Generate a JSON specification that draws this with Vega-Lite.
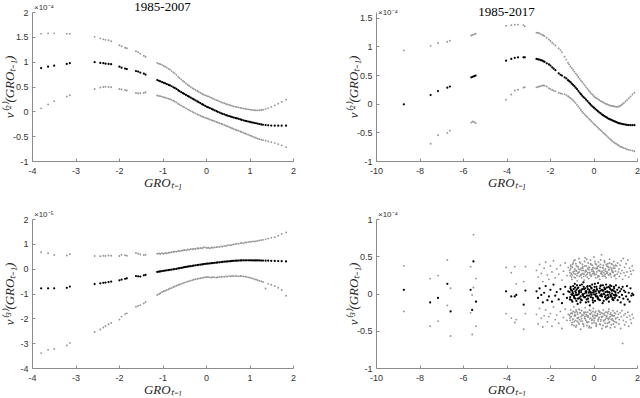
{
"$schema":"https://vega.github.io/schema/vega-lite/v6.json",
"padding":{"left":3,"top":0,"right":0,"bottom":0},
"config":{
 "locale":{"number":{"decimal":".","thousands":",","grouping":[3],"currency":["$",""],"minus":"-"}},
 "view":{"stroke":null},
 "font":"Liberation Sans",
 "title":{"font":"Liberation Serif","fontSize":13,"fontWeight":"normal","color":"#000000","offset":-10},
 "axis":{"grid":false,"domainColor":"#8c8c8c","tickColor":"#8c8c8c","tickSize":-3,"labelFont":"Liberation Sans","labelFontSize":9,"labelColor":"#333333","labelFlush":false,"labelOverlap":false,"titleFont":"Liberation Serif","titleFontSize":13,"titleFontWeight":"normal","titleFontStyle":"italic","titleColor":"#262626"}
},
"datasets":{
"L":[
{"x":-3.79,"hi2":1.56,"mid2":0.87,"lo2":0.06,"hi3":0.66,"mid3":-0.79,"lo3":-3.4},
{"x":-3.63,"hi2":1.57,"mid2":0.9,"lo2":0.14,"hi3":0.62,"mid3":-0.79,"lo3":-3.27},
{"x":-3.49,"hi2":1.57,"mid2":0.92,"lo2":0.205,"hi3":0.55,"mid3":-0.79,"lo3":-3.23},
{"x":-3.2,"hi2":1.56,"mid2":0.955,"lo2":0.3,"hi3":0.53,"mid3":-0.77,"lo3":-3.09},
{"x":-3.13,"hi2":1.56,"mid2":0.97,"lo2":0.325,"hi3":0.58,"mid3":-0.72,"lo3":-2.99},
{"x":-2.56,"hi2":1.5,"mid2":0.99,"lo2":0.45,"hi3":0.51,"mid3":-0.62,"lo3":-2.55},
{"x":-2.43,"hi2":1.47,"mid2":0.975,"lo2":0.48,"hi3":0.5,"mid3":-0.59,"lo3":-2.45},
{"x":-2.36,"hi2":1.45,"mid2":0.97,"lo2":0.49,"hi3":0.52,"mid3":-0.57,"lo3":-2.37},
{"x":-2.31,"hi2":1.44,"mid2":0.96,"lo2":0.495,"hi3":0.51,"mid3":-0.56,"lo3":-2.31},
{"x":-2.24,"hi2":1.43,"mid2":0.955,"lo2":0.49,"hi3":0.53,"mid3":-0.54,"lo3":-2.24},
{"x":-2.18,"hi2":1.41,"mid2":0.95,"lo2":0.485,"hi3":0.52,"mid3":-0.52,"lo3":-2.19},
{"x":-1.99,"hi2":1.33,"mid2":0.9,"lo2":0.45,"hi3":0.51,"mid3":-0.47,"lo3":-2.05},
{"x":-1.94,"hi2":1.31,"mid2":0.88,"lo2":0.44,"hi3":0.56,"mid3":-0.44,"lo3":-1.93},
{"x":-1.86,"hi2":1.28,"mid2":0.86,"lo2":0.43,"hi3":0.54,"mid3":-0.41,"lo3":-1.83},
{"x":-1.82,"hi2":1.27,"mid2":0.85,"lo2":0.42,"hi3":0.52,"mid3":-0.39,"lo3":-1.8},
{"x":-1.61,"hi2":1.21,"mid2":0.81,"lo2":0.37,"hi3":0.63,"mid3":-0.3,"lo3":-1.53},
{"x":-1.56,"hi2":1.19,"mid2":0.8,"lo2":0.365,"hi3":0.6,"mid3":-0.31,"lo3":-1.5},
{"x":-1.51,"hi2":1.16,"mid2":0.78,"lo2":0.365,"hi3":0.57,"mid3":-0.32,"lo3":-1.47},
{"x":-1.43,"hi2":1.12,"mid2":0.76,"lo2":0.37,"hi3":0.55,"mid3":-0.27,"lo3":-1.4},
{"x":-1.39,"hi2":1.1,"mid2":0.74,"lo2":0.385,"hi3":0.56,"mid3":-0.25,"lo3":-1.34},
{"x":-1.12,"hi2":0.975,"mid2":0.63,"lo2":0.32,"hi3":0.6,"mid3":-0.13,"lo3":-1.06},
{"x":-1.08,"hi2":0.96,"mid2":0.615,"lo2":0.31,"hi3":0.61,"mid3":-0.12,"lo3":-1.02},
{"x":-1.05,"hi2":0.95,"mid2":0.605,"lo2":0.305,"hi3":0.59,"mid3":-0.11,"lo3":-0.99},
{"x":-1.01,"hi2":0.935,"mid2":0.59,"lo2":0.295,"hi3":0.62,"mid3":-0.095,"lo3":-0.94},
{"x":-0.97,"hi2":0.915,"mid2":0.575,"lo2":0.285,"hi3":0.6,"mid3":-0.085,"lo3":-0.91},
{"x":-0.94,"hi2":0.9,"mid2":0.565,"lo2":0.275,"hi3":0.63,"mid3":-0.075,"lo3":-0.89},
{"x":-0.9,"hi2":0.88,"mid2":0.55,"lo2":0.265,"hi3":0.62,"mid3":-0.065,"lo3":-0.86},
{"x":-0.86,"hi2":0.855,"mid2":0.535,"lo2":0.255,"hi3":0.64,"mid3":-0.055,"lo3":-0.83},
{"x":-0.83,"hi2":0.84,"mid2":0.525,"lo2":0.245,"hi3":0.65,"mid3":-0.045,"lo3":-0.8},
{"x":-0.79,"hi2":0.81,"mid2":0.505,"lo2":0.23,"hi3":0.66,"mid3":-0.035,"lo3":-0.78},
{"x":-0.75,"hi2":0.785,"mid2":0.485,"lo2":0.215,"hi3":0.67,"mid3":-0.025,"lo3":-0.74},
{"x":-0.72,"hi2":0.765,"mid2":0.47,"lo2":0.2,"hi3":0.69,"mid3":-0.015,"lo3":-0.72},
{"x":-0.68,"hi2":0.735,"mid2":0.45,"lo2":0.18,"hi3":0.68,"mid3":-0.005,"lo3":-0.69},
{"x":-0.64,"hi2":0.7,"mid2":0.425,"lo2":0.155,"hi3":0.71,"mid3":0.01,"lo3":-0.66},
{"x":-0.61,"hi2":0.67,"mid2":0.405,"lo2":0.135,"hi3":0.7,"mid3":0.02,"lo3":-0.64},
{"x":-0.57,"hi2":0.64,"mid2":0.385,"lo2":0.115,"hi3":0.72,"mid3":0.03,"lo3":-0.61},
{"x":-0.53,"hi2":0.61,"mid2":0.365,"lo2":0.095,"hi3":0.73,"mid3":0.045,"lo3":-0.59},
{"x":-0.5,"hi2":0.59,"mid2":0.35,"lo2":0.08,"hi3":0.75,"mid3":0.06,"lo3":-0.56},
{"x":-0.46,"hi2":0.56,"mid2":0.33,"lo2":0.06,"hi3":0.74,"mid3":0.07,"lo3":-0.54},
{"x":-0.42,"hi2":0.535,"mid2":0.31,"lo2":0.04,"hi3":0.77,"mid3":0.08,"lo3":-0.52},
{"x":-0.39,"hi2":0.515,"mid2":0.295,"lo2":0.025,"hi3":0.76,"mid3":0.095,"lo3":-0.5},
{"x":-0.35,"hi2":0.49,"mid2":0.275,"lo2":0.005,"hi3":0.79,"mid3":0.1,"lo3":-0.48},
{"x":-0.31,"hi2":0.465,"mid2":0.255,"lo2":-0.01,"hi3":0.78,"mid3":0.115,"lo3":-0.46},
{"x":-0.28,"hi2":0.45,"mid2":0.24,"lo2":-0.025,"hi3":0.8,"mid3":0.125,"lo3":-0.44},
{"x":-0.24,"hi2":0.43,"mid2":0.22,"lo2":-0.04,"hi3":0.79,"mid3":0.135,"lo3":-0.425},
{"x":-0.2,"hi2":0.41,"mid2":0.2,"lo2":-0.06,"hi3":0.82,"mid3":0.145,"lo3":-0.41},
{"x":-0.17,"hi2":0.395,"mid2":0.185,"lo2":-0.07,"hi3":0.81,"mid3":0.155,"lo3":-0.4},
{"x":-0.13,"hi2":0.375,"mid2":0.165,"lo2":-0.09,"hi3":0.83,"mid3":0.16,"lo3":-0.385},
{"x":-0.09,"hi2":0.355,"mid2":0.145,"lo2":-0.105,"hi3":0.82,"mid3":0.17,"lo3":-0.37},
{"x":-0.06,"hi2":0.34,"mid2":0.13,"lo2":-0.115,"hi3":0.85,"mid3":0.18,"lo3":-0.36},
{"x":-0.02,"hi2":0.325,"mid2":0.11,"lo2":-0.13,"hi3":0.86,"mid3":0.19,"lo3":-0.345},
{"x":0.02,"hi2":0.31,"mid2":0.09,"lo2":-0.14,"hi3":0.83,"mid3":0.2,"lo3":-0.335},
{"x":0.05,"hi2":0.3,"mid2":0.08,"lo2":-0.15,"hi3":0.84,"mid3":0.205,"lo3":-0.34},
{"x":0.09,"hi2":0.285,"mid2":0.065,"lo2":-0.165,"hi3":0.82,"mid3":0.21,"lo3":-0.35},
{"x":0.13,"hi2":0.27,"mid2":0.05,"lo2":-0.18,"hi3":0.85,"mid3":0.22,"lo3":-0.355},
{"x":0.16,"hi2":0.255,"mid2":0.035,"lo2":-0.19,"hi3":0.84,"mid3":0.225,"lo3":-0.34},
{"x":0.2,"hi2":0.24,"mid2":0.02,"lo2":-0.2,"hi3":0.86,"mid3":0.235,"lo3":-0.35},
{"x":0.24,"hi2":0.225,"mid2":0.005,"lo2":-0.215,"hi3":0.87,"mid3":0.24,"lo3":-0.36},
{"x":0.27,"hi2":0.215,"mid2":-0.01,"lo2":-0.225,"hi3":0.88,"mid3":0.25,"lo3":-0.345},
{"x":0.31,"hi2":0.2,"mid2":-0.025,"lo2":-0.24,"hi3":0.87,"mid3":0.255,"lo3":-0.33},
{"x":0.35,"hi2":0.185,"mid2":-0.04,"lo2":-0.25,"hi3":0.9,"mid3":0.265,"lo3":-0.34},
{"x":0.38,"hi2":0.175,"mid2":-0.05,"lo2":-0.26,"hi3":0.89,"mid3":0.27,"lo3":-0.32},
{"x":0.42,"hi2":0.165,"mid2":-0.06,"lo2":-0.275,"hi3":0.92,"mid3":0.28,"lo3":-0.33},
{"x":0.46,"hi2":0.15,"mid2":-0.075,"lo2":-0.29,"hi3":0.91,"mid3":0.285,"lo3":-0.31},
{"x":0.49,"hi2":0.14,"mid2":-0.085,"lo2":-0.3,"hi3":0.94,"mid3":0.29,"lo3":-0.32},
{"x":0.53,"hi2":0.13,"mid2":-0.095,"lo2":-0.315,"hi3":0.95,"mid3":0.295,"lo3":-0.3},
{"x":0.57,"hi2":0.12,"mid2":-0.105,"lo2":-0.33,"hi3":0.94,"mid3":0.3,"lo3":-0.31},
{"x":0.6,"hi2":0.11,"mid2":-0.115,"lo2":-0.34,"hi3":0.97,"mid3":0.31,"lo3":-0.295},
{"x":0.64,"hi2":0.1,"mid2":-0.125,"lo2":-0.355,"hi3":0.98,"mid3":0.315,"lo3":-0.3},
{"x":0.68,"hi2":0.09,"mid2":-0.135,"lo2":-0.37,"hi3":0.99,"mid3":0.32,"lo3":-0.29},
{"x":0.71,"hi2":0.085,"mid2":-0.14,"lo2":-0.38,"hi3":1.01,"mid3":0.32,"lo3":-0.3},
{"x":0.75,"hi2":0.08,"mid2":-0.15,"lo2":-0.39,"hi3":1.0,"mid3":0.325,"lo3":-0.31},
{"x":0.79,"hi2":0.07,"mid2":-0.16,"lo2":-0.405,"hi3":1.03,"mid3":0.33,"lo3":-0.295},
{"x":0.82,"hi2":0.065,"mid2":-0.17,"lo2":-0.415,"hi3":1.04,"mid3":0.33,"lo3":-0.3},
{"x":0.86,"hi2":0.055,"mid2":-0.18,"lo2":-0.43,"hi3":1.02,"mid3":0.335,"lo3":-0.31},
{"x":0.9,"hi2":0.05,"mid2":-0.19,"lo2":-0.445,"hi3":1.06,"mid3":0.335,"lo3":-0.32},
{"x":0.93,"hi2":0.045,"mid2":-0.195,"lo2":-0.455,"hi3":1.05,"mid3":0.335,"lo3":-0.33},
{"x":0.97,"hi2":0.04,"mid2":-0.205,"lo2":-0.47,"hi3":1.07,"mid3":0.335,"lo3":-0.35},
{"x":1.01,"hi2":0.035,"mid2":-0.21,"lo2":-0.485,"hi3":1.08,"mid3":0.335,"lo3":-0.36},
{"x":1.04,"hi2":0.03,"mid2":-0.22,"lo2":-0.495,"hi3":1.09,"mid3":0.335,"lo3":-0.38},
{"x":1.08,"hi2":0.025,"mid2":-0.225,"lo2":-0.51,"hi3":1.1,"mid3":0.33,"lo3":-0.4},
{"x":1.12,"hi2":0.022,"mid2":-0.235,"lo2":-0.525,"hi3":1.09,"mid3":0.33,"lo3":-0.43},
{"x":1.15,"hi2":0.02,"mid2":-0.24,"lo2":-0.535,"hi3":1.11,"mid3":0.33,"lo3":-0.44},
{"x":1.19,"hi2":0.02,"mid2":-0.248,"lo2":-0.55,"hi3":1.12,"mid3":0.33,"lo3":-0.465},
{"x":1.23,"hi2":0.022,"mid2":-0.255,"lo2":-0.56,"hi3":1.14,"mid3":0.33,"lo3":-0.49},
{"x":1.27,"hi2":0.026,"mid2":-0.263,"lo2":-0.57,"hi3":1.15,"mid3":0.325,"lo3":-0.51},
{"x":1.31,"hi2":0.032,"mid2":-0.27,"lo2":-0.58,"hi3":1.16,"mid3":0.325,"lo3":-0.535},
{"x":1.37,"hi2":0.045,"mid2":-0.276,"lo2":-0.59,"hi3":1.18,"mid3":0.32,"lo3":-0.8},
{"x":1.43,"hi2":0.065,"mid2":-0.282,"lo2":-0.605,"hi3":1.21,"mid3":0.32,"lo3":-0.61},
{"x":1.5,"hi2":0.09,"mid2":-0.286,"lo2":-0.62,"hi3":1.24,"mid3":0.315,"lo3":-0.65},
{"x":1.58,"hi2":0.12,"mid2":-0.288,"lo2":-0.64,"hi3":1.27,"mid3":0.31,"lo3":-0.7},
{"x":1.66,"hi2":0.155,"mid2":-0.29,"lo2":-0.66,"hi3":1.33,"mid3":0.305,"lo3":-0.77},
{"x":1.74,"hi2":0.19,"mid2":-0.29,"lo2":-0.685,"hi3":1.4,"mid3":0.3,"lo3":-0.86},
{"x":1.84,"hi2":0.235,"mid2":-0.29,"lo2":-0.72,"hi3":1.46,"mid3":0.29,"lo3":-1.09}
],
"R2":[
{"x":-8.72,"h":0.93,"m":-0.01,"l":null},
{"x":-7.49,"h":1.01,"m":0.15,"l":-0.7},
{"x":-7.15,"h":1.06,"m":0.22,"l":-0.55},
{"x":-6.72,"h":1.08,"m":0.28,"l":-0.51},
{"x":-6.6,"h":1.1,"m":0.3,"l":-0.47},
{"x":-5.62,"h":1.19,"m":0.46,"l":-0.33},
{"x":-5.56,"h":1.2,"m":0.47,"l":-0.31},
{"x":-5.49,"h":1.21,"m":0.48,"l":-0.32},
{"x":-5.42,"h":1.22,"m":0.49,"l":-0.34},
{"x":-4.02,"h":1.36,"m":0.75,"l":0.07},
{"x":-3.78,"h":1.37,"m":0.78,"l":0.16},
{"x":-3.62,"h":1.38,"m":0.8,"l":0.23},
{"x":-3.47,"h":1.38,"m":0.81,"l":0.245},
{"x":-3.22,"h":1.37,"m":0.81,"l":0.28},
{"x":-3.16,"h":1.35,"m":0.81,"l":0.29},
{"x":-2.62,"h":1.24,"m":0.78,"l":0.285},
{"x":-2.55,"h":1.235,"m":0.775,"l":0.295},
{"x":-2.5,"h":1.23,"m":0.77,"l":0.3},
{"x":-2.42,"h":1.215,"m":0.76,"l":0.31},
{"x":-2.35,"h":1.2,"m":0.75,"l":0.315},
{"x":-2.3,"h":1.19,"m":0.74,"l":0.32},
{"x":-2.25,"h":1.18,"m":0.73,"l":0.315},
{"x":-2.15,"h":1.15,"m":0.705,"l":0.3},
{"x":-2.05,"h":1.12,"m":0.685,"l":0.27},
{"x":-1.98,"h":1.095,"m":0.665,"l":0.255},
{"x":-1.9,"h":1.065,"m":0.635,"l":0.24},
{"x":-1.83,"h":1.04,"m":0.61,"l":0.225},
{"x":-1.75,"h":1.015,"m":0.585,"l":0.215},
{"x":-1.6,"h":0.965,"m":0.53,"l":0.19},
{"x":-1.52,"h":0.935,"m":0.505,"l":0.18},
{"x":-1.45,"h":0.9,"m":0.49,"l":0.175},
{"x":-1.33,"h":0.82,"m":0.46,"l":0.165},
{"x":-1.25,"h":0.77,"m":0.44,"l":0.15},
{"x":-1.17,"h":0.715,"m":0.41,"l":0.13},
{"x":-1.12,"h":0.685,"m":0.395,"l":0.115},
{"x":-1.06,"h":0.65,"m":0.375,"l":0.1},
{"x":-1.0,"h":0.62,"m":0.35,"l":0.08},
{"x":-0.94,"h":0.59,"m":0.33,"l":0.06},
{"x":-0.88,"h":0.56,"m":0.305,"l":0.035},
{"x":-0.82,"h":0.53,"m":0.28,"l":0.01},
{"x":-0.76,"h":0.5,"m":0.255,"l":-0.02},
{"x":-0.7,"h":0.465,"m":0.225,"l":-0.05},
{"x":-0.64,"h":0.435,"m":0.195,"l":-0.08},
{"x":-0.58,"h":0.405,"m":0.165,"l":-0.11},
{"x":-0.52,"h":0.38,"m":0.14,"l":-0.14},
{"x":-0.46,"h":0.35,"m":0.115,"l":-0.165},
{"x":-0.4,"h":0.32,"m":0.095,"l":-0.19},
{"x":-0.34,"h":0.29,"m":0.07,"l":-0.215},
{"x":-0.28,"h":0.26,"m":0.045,"l":-0.235},
{"x":-0.22,"h":0.23,"m":0.02,"l":-0.26},
{"x":-0.16,"h":0.205,"m":-0.005,"l":-0.28},
{"x":-0.1,"h":0.175,"m":-0.03,"l":-0.305},
{"x":-0.04,"h":0.155,"m":-0.05,"l":-0.33},
{"x":0.02,"h":0.13,"m":-0.07,"l":-0.355},
{"x":0.08,"h":0.11,"m":-0.09,"l":-0.375},
{"x":0.14,"h":0.095,"m":-0.11,"l":-0.395},
{"x":0.2,"h":0.08,"m":-0.13,"l":-0.415},
{"x":0.26,"h":0.065,"m":-0.15,"l":-0.44},
{"x":0.32,"h":0.05,"m":-0.165,"l":-0.46},
{"x":0.38,"h":0.035,"m":-0.185,"l":-0.48},
{"x":0.44,"h":0.025,"m":-0.2,"l":-0.505},
{"x":0.5,"h":0.01,"m":-0.215,"l":-0.525},
{"x":0.56,"h":0.0,"m":-0.23,"l":-0.545},
{"x":0.62,"h":-0.01,"m":-0.245,"l":-0.565},
{"x":0.68,"h":-0.02,"m":-0.26,"l":-0.59},
{"x":0.74,"h":-0.03,"m":-0.27,"l":-0.61},
{"x":0.8,"h":-0.035,"m":-0.28,"l":-0.63},
{"x":0.86,"h":-0.04,"m":-0.29,"l":-0.65},
{"x":0.92,"h":-0.045,"m":-0.3,"l":-0.67},
{"x":0.98,"h":-0.05,"m":-0.31,"l":-0.685},
{"x":1.04,"h":-0.055,"m":-0.32,"l":-0.7},
{"x":1.1,"h":-0.055,"m":-0.33,"l":-0.715},
{"x":1.16,"h":-0.05,"m":-0.34,"l":-0.73},
{"x":1.22,"h":-0.04,"m":-0.345,"l":-0.745},
{"x":1.28,"h":-0.025,"m":-0.35,"l":-0.755},
{"x":1.34,"h":-0.005,"m":-0.355,"l":-0.765},
{"x":1.4,"h":0.015,"m":-0.36,"l":-0.775},
{"x":1.47,"h":0.04,"m":-0.365,"l":-0.785},
{"x":1.54,"h":0.065,"m":-0.37,"l":-0.795},
{"x":1.62,"h":0.095,"m":-0.372,"l":-0.805},
{"x":1.7,"h":0.125,"m":-0.374,"l":-0.81},
{"x":1.79,"h":0.16,"m":-0.375,"l":-0.82},
{"x":1.88,"h":0.19,"m":-0.375,"l":-0.83}
],
"R3":[
{"x":-8.72,"h":0.37,"m":0.05,"l":-0.24},
{"x":-7.51,"h":0.2,"m":-0.12,"l":-0.44},
{"x":-7.15,"h":0.24,"m":-0.06,"l":-0.37},
{"x":-6.72,"h":0.45,"m":0.13,"l":-0.16},
{"x":-6.57,"h":0.07,"m":-0.24,"l":-0.57},
{"x":-5.65,"h":0.36,"m":0.05,"l":-0.26},
{"x":-5.58,"h":-0.02,"m":-0.22,"l":-0.55},
{"x":-5.52,"h":0.79,"m":0.43,"l":0.08},
{"x":-5.4,"h":0.2,"m":-0.11,"l":-0.44},
{"x":-4.02,"h":0.35,"m":0.03,"l":-0.27},
{"x":-3.78,"h":0.28,"m":-0.04,"l":-0.33},
{"x":-3.62,"h":0.36,"m":-0.04,"l":-0.39},
{"x":-3.55,"h":0.13,"m":-0.02,"l":-0.35},
{"x":-3.21,"h":0.16,"m":-0.15,"l":-0.48},
{"x":-3.13,"h":0.36,"m":0.04,"l":-0.27},
{"x":-2.62,"h":0.31,"m":0.03,"l":-0.28},
{"x":-2.55,"h":0.22,"m":-0.06,"l":-0.41},
{"x":-2.48,"h":0.39,"m":0.07,"l":-0.2},
{"x":-2.4,"h":0.27,"m":-0.02,"l":-0.33},
{"x":-2.33,"h":0.16,"m":-0.12,"l":-0.45},
{"x":-2.27,"h":0.34,"m":0.01,"l":-0.3},
{"x":-2.2,"h":0.42,"m":0.1,"l":-0.22},
{"x":-2.12,"h":0.25,"m":-0.09,"l":-0.38},
{"x":-2.05,"h":0.19,"m":-0.04,"l":-0.31},
{"x":-1.98,"h":0.37,"m":0.05,"l":-0.27},
{"x":-1.91,"h":0.29,"m":-0.11,"l":-0.44},
{"x":-1.84,"h":0.44,"m":0.12,"l":-0.18},
{"x":-1.76,"h":0.21,"m":-0.03,"l":-0.35},
{"x":-1.69,"h":0.33,"m":0.02,"l":-0.29},
{"x":-1.6,"h":0.26,"m":-0.08,"l":-0.4},
{"x":-1.52,"h":0.38,"m":0.06,"l":-0.24},
{"x":-1.45,"h":0.18,"m":-0.13,"l":-0.47},
{"x":-1.38,"h":0.3,"m":-0.01,"l":-0.32},
{"x":-1.3,"h":0.41,"m":0.09,"l":-0.21},
{"x":-1.22,"h":0.24,"m":-0.06,"l":-0.36},
{"x":-1.16,"h":0.35,"m":0.03,"l":-0.28},
{"x":-1.1,"h":0.31,"m":0.02,"l":-0.29},
{"x":-1.085,"h":0.28,"m":-0.08,"l":-0.33},
{"x":-1.07,"h":0.24,"m":-0.05,"l":-0.36},
{"x":-1.06,"h":0.33,"m":0.07,"l":-0.31},
{"x":-1.05,"h":0.38,"m":0.09,"l":-0.22},
{"x":-1.035,"h":0.36,"m":0.05,"l":-0.27},
{"x":-1.02,"h":0.27,"m":-0.01,"l":-0.31},
{"x":-1.01,"h":0.22,"m":-0.09,"l":-0.26},
{"x":-0.99,"h":0.19,"m":0.04,"l":-0.42},
{"x":-0.985,"h":0.25,"m":-0.02,"l":-0.39},
{"x":-0.97,"h":0.35,"m":-0.11,"l":-0.27},
{"x":-0.96,"h":0.39,"m":0.02,"l":-0.35},
{"x":-0.94,"h":0.29,"m":0.0,"l":-0.34},
{"x":-0.935,"h":0.41,"m":0.1,"l":-0.24},
{"x":-0.91,"h":0.44,"m":0.06,"l":-0.18},
{"x":-0.9,"h":0.27,"m":-0.04,"l":-0.43},
{"x":-0.89,"h":0.22,"m":-0.03,"l":-0.38},
{"x":-0.885,"h":0.3,"m":-0.06,"l":-0.3},
{"x":-0.86,"h":0.33,"m":0.13,"l":-0.25},
{"x":-0.85,"h":0.45,"m":0.08,"l":-0.28},
{"x":-0.835,"h":0.21,"m":0.03,"l":-0.36},
{"x":-0.83,"h":0.26,"m":-0.07,"l":-0.3},
{"x":-0.81,"h":0.4,"m":0.01,"l":-0.45},
{"x":-0.8,"h":0.31,"m":-0.02,"l":-0.22},
{"x":-0.785,"h":0.37,"m":-0.1,"l":-0.43},
{"x":-0.78,"h":0.3,"m":0.05,"l":-0.24},
{"x":-0.76,"h":0.24,"m":0.11,"l":-0.37},
{"x":-0.75,"h":0.17,"m":-0.02,"l":-0.33},
{"x":-0.735,"h":0.27,"m":0.07,"l":-0.26},
{"x":-0.73,"h":0.36,"m":-0.14,"l":-0.28},
{"x":-0.71,"h":0.36,"m":-0.07,"l":-0.33},
{"x":-0.7,"h":0.28,"m":0.08,"l":-0.39},
{"x":-0.685,"h":0.33,"m":-0.01,"l":-0.32},
{"x":-0.67,"h":0.47,"m":0.03,"l":-0.21},
{"x":-0.66,"h":0.29,"m":0.01,"l":-0.41},
{"x":-0.65,"h":0.23,"m":-0.06,"l":-0.35},
{"x":-0.635,"h":0.42,"m":0.04,"l":-0.22},
{"x":-0.62,"h":0.32,"m":0.11,"l":-0.26},
{"x":-0.6,"h":0.41,"m":-0.12,"l":-0.26},
{"x":-0.59,"h":0.25,"m":-0.04,"l":-0.48},
{"x":-0.585,"h":0.24,"m":-0.08,"l":-0.37},
{"x":-0.57,"h":0.34,"m":0.02,"l":-0.31},
{"x":-0.55,"h":0.26,"m":0.05,"l":-0.34},
{"x":-0.54,"h":0.21,"m":-0.09,"l":-0.23},
{"x":-0.535,"h":0.31,"m":0.12,"l":-0.29},
{"x":-0.51,"h":0.39,"m":0.06,"l":-0.37},
{"x":-0.5,"h":0.34,"m":-0.01,"l":-0.29},
{"x":-0.49,"h":0.27,"m":-0.01,"l":-0.29},
{"x":-0.485,"h":0.36,"m":-0.03,"l":-0.41},
{"x":-0.46,"h":0.31,"m":0.15,"l":-0.41},
{"x":-0.45,"h":0.23,"m":0.09,"l":-0.44},
{"x":-0.435,"h":0.26,"m":0.06,"l":-0.25},
{"x":-0.43,"h":0.18,"m":-0.05,"l":-0.27},
{"x":-0.41,"h":0.43,"m":0.0,"l":-0.33},
{"x":-0.4,"h":0.37,"m":-0.05,"l":-0.31},
{"x":-0.385,"h":0.48,"m":-0.05,"l":-0.34},
{"x":-0.38,"h":0.29,"m":0.07,"l":-0.19},
{"x":-0.36,"h":0.31,"m":0.03,"l":-0.25},
{"x":-0.35,"h":0.24,"m":-0.12,"l":-0.36},
{"x":-0.335,"h":0.3,"m":0.01,"l":-0.28},
{"x":-0.33,"h":0.37,"m":0.03,"l":-0.3},
{"x":-0.31,"h":0.46,"m":-0.08,"l":-0.38},
{"x":-0.3,"h":0.26,"m":-0.03,"l":-0.43},
{"x":-0.285,"h":0.22,"m":0.09,"l":-0.39},
{"x":-0.27,"h":0.33,"m":0.1,"l":-0.25},
{"x":-0.26,"h":0.28,"m":0.06,"l":-0.3},
{"x":-0.25,"h":0.41,"m":-0.07,"l":-0.32},
{"x":-0.235,"h":0.35,"m":-0.11,"l":-0.31},
{"x":-0.22,"h":0.2,"m":0.01,"l":-0.38},
{"x":-0.21,"h":0.32,"m":-0.03,"l":-0.46},
{"x":-0.19,"h":0.35,"m":0.05,"l":-0.22},
{"x":-0.185,"h":0.28,"m":0.03,"l":-0.44},
{"x":-0.17,"h":0.28,"m":-0.16,"l":-0.34},
{"x":-0.16,"h":0.25,"m":0.1,"l":-0.27},
{"x":-0.14,"h":0.45,"m":0.02,"l":-0.28},
{"x":-0.135,"h":0.4,"m":-0.01,"l":-0.23},
{"x":-0.12,"h":0.39,"m":-0.05,"l":-0.33},
{"x":-0.11,"h":0.23,"m":0.08,"l":-0.46},
{"x":-0.09,"h":0.32,"m":-0.02,"l":-0.26},
{"x":-0.085,"h":0.25,"m":0.07,"l":-0.36},
{"x":-0.07,"h":0.3,"m":0.01,"l":-0.4},
{"x":-0.06,"h":0.38,"m":0.12,"l":-0.35},
{"x":-0.035,"h":0.33,"m":-0.09,"l":-0.29},
{"x":-0.03,"h":0.27,"m":-0.06,"l":-0.31},
{"x":-0.02,"h":0.35,"m":-0.12,"l":-0.24},
{"x":-0.01,"h":0.3,"m":0.04,"l":-0.2},
{"x":0.015,"h":0.29,"m":0.02,"l":-0.33},
{"x":0.02,"h":0.49,"m":-0.01,"l":-0.39},
{"x":0.035,"h":0.27,"m":0.05,"l":-0.36},
{"x":0.05,"h":0.25,"m":0.09,"l":-0.29},
{"x":0.065,"h":0.43,"m":0.13,"l":-0.26},
{"x":0.07,"h":0.34,"m":-0.1,"l":-0.33},
{"x":0.085,"h":0.4,"m":-0.02,"l":-0.3},
{"x":0.1,"h":0.21,"m":0.03,"l":-0.24},
{"x":0.115,"h":0.26,"m":-0.04,"l":-0.4},
{"x":0.13,"h":0.39,"m":0.0,"l":-0.44},
{"x":0.135,"h":0.33,"m":0.09,"l":-0.42},
{"x":0.15,"h":0.29,"m":0.06,"l":-0.3},
{"x":0.165,"h":0.34,"m":0.05,"l":-0.3},
{"x":0.18,"h":0.36,"m":-0.04,"l":-0.27},
{"x":0.19,"h":0.22,"m":-0.06,"l":-0.28},
{"x":0.21,"h":0.24,"m":0.14,"l":-0.37},
{"x":0.215,"h":0.31,"m":-0.07,"l":-0.35},
{"x":0.23,"h":0.42,"m":-0.08,"l":-0.23},
{"x":0.24,"h":0.37,"m":0.03,"l":-0.34},
{"x":0.26,"h":0.31,"m":0.02,"l":-0.32},
{"x":0.265,"h":0.23,"m":0.01,"l":-0.24},
{"x":0.29,"h":0.19,"m":0.07,"l":-0.41},
{"x":0.295,"h":0.3,"m":-0.09,"l":-0.25},
{"x":0.31,"h":0.35,"m":-0.03,"l":-0.28},
{"x":0.315,"h":0.39,"m":0.1,"l":-0.42},
{"x":0.33,"h":0.45,"m":0.04,"l":-0.37},
{"x":0.34,"h":0.27,"m":0.11,"l":-0.35},
{"x":0.365,"h":0.28,"m":-0.02,"l":-0.31},
{"x":0.37,"h":0.52,"m":-0.01,"l":-0.26},
{"x":0.385,"h":0.26,"m":-0.04,"l":-0.32},
{"x":0.39,"h":0.3,"m":0.05,"l":-0.47},
{"x":0.415,"h":0.35,"m":0.04,"l":-0.27},
{"x":0.42,"h":0.23,"m":-0.13,"l":-0.31},
{"x":0.435,"h":0.34,"m":0.11,"l":-0.43},
{"x":0.45,"h":0.38,"m":0.04,"l":-0.22},
{"x":0.465,"h":0.24,"m":-0.1,"l":-0.37},
{"x":0.47,"h":0.28,"m":0.0,"l":-0.36},
{"x":0.485,"h":0.31,"m":-0.01,"l":-0.27},
{"x":0.5,"h":0.44,"m":0.08,"l":-0.29},
{"x":0.515,"h":0.42,"m":0.06,"l":-0.29},
{"x":0.53,"h":0.26,"m":-0.05,"l":-0.4},
{"x":0.535,"h":0.23,"m":0.06,"l":-0.35},
{"x":0.55,"h":0.33,"m":0.02,"l":-0.25},
{"x":0.565,"h":0.3,"m":-0.03,"l":-0.45},
{"x":0.58,"h":0.21,"m":0.12,"l":-0.33},
{"x":0.59,"h":0.39,"m":-0.08,"l":-0.31},
{"x":0.61,"h":0.37,"m":-0.07,"l":-0.3},
{"x":0.615,"h":0.27,"m":0.08,"l":-0.25},
{"x":0.63,"h":0.29,"m":0.03,"l":-0.44},
{"x":0.64,"h":0.28,"m":0.02,"l":-0.4},
{"x":0.66,"h":0.4,"m":-0.02,"l":-0.27},
{"x":0.665,"h":0.36,"m":-0.06,"l":-0.33},
{"x":0.69,"h":0.25,"m":0.09,"l":-0.35},
{"x":0.695,"h":0.35,"m":-0.05,"l":-0.24},
{"x":0.71,"h":0.32,"m":-0.11,"l":-0.21},
{"x":0.715,"h":0.32,"m":0.02,"l":-0.39},
{"x":0.735,"h":0.41,"m":0.08,"l":-0.33},
{"x":0.74,"h":0.46,"m":0.01,"l":-0.38},
{"x":0.765,"h":0.25,"m":0.11,"l":-0.28},
{"x":0.77,"h":0.27,"m":0.06,"l":-0.31},
{"x":0.78,"h":0.26,"m":-0.02,"l":-0.46},
{"x":0.79,"h":0.35,"m":-0.04,"l":-0.26},
{"x":0.815,"h":0.4,"m":-0.04,"l":-0.35},
{"x":0.82,"h":0.22,"m":0.1,"l":-0.42},
{"x":0.83,"h":0.33,"m":0.04,"l":-0.29},
{"x":0.85,"h":0.31,"m":0.0,"l":-0.29},
{"x":0.865,"h":0.29,"m":0.05,"l":-0.3},
{"x":0.87,"h":0.39,"m":-0.08,"l":-0.34},
{"x":0.88,"h":0.3,"m":-0.06,"l":-0.36},
{"x":0.9,"h":0.28,"m":0.04,"l":-0.23},
{"x":0.915,"h":0.34,"m":-0.09,"l":-0.41},
{"x":0.93,"h":0.43,"m":-0.02,"l":-0.37},
{"x":0.94,"h":0.37,"m":0.09,"l":-0.3},
{"x":0.95,"h":0.24,"m":0.07,"l":-0.3},
{"x":0.965,"h":0.23,"m":0.03,"l":-0.26},
{"x":0.98,"h":0.34,"m":-0.06,"l":-0.45},
{"x":0.99,"h":0.25,"m":-0.03,"l":-0.38},
{"x":1.01,"h":0.3,"m":0.02,"l":-0.27},
{"x":1.015,"h":0.38,"m":-0.01,"l":-0.34},
{"x":1.03,"h":0.2,"m":0.11,"l":-0.33},
{"x":1.06,"h":0.37,"m":-0.03,"l":-0.39},
{"x":1.09,"h":0.26,"m":0.05,"l":-0.24},
{"x":1.11,"h":0.41,"m":-0.09,"l":-0.32},
{"x":1.14,"h":0.29,"m":0.01,"l":-0.28},
{"x":1.17,"h":0.33,"m":0.08,"l":-0.41},
{"x":1.19,"h":0.23,"m":-0.05,"l":-0.35},
{"x":1.22,"h":0.38,"m":0.03,"l":-0.26},
{"x":1.25,"h":0.27,"m":-0.12,"l":-0.47},
{"x":1.28,"h":0.44,"m":0.06,"l":-0.31},
{"x":1.31,"h":0.31,"m":-0.02,"l":-0.23},
{"x":1.34,"h":0.19,"m":0.09,"l":-0.67},
{"x":1.37,"h":0.47,"m":-0.07,"l":-0.36},
{"x":1.4,"h":0.28,"m":0.04,"l":-0.29},
{"x":1.43,"h":0.35,"m":-0.15,"l":-0.42},
{"x":1.46,"h":0.24,"m":0.02,"l":-0.27},
{"x":1.5,"h":0.4,"m":-0.04,"l":-0.38},
{"x":1.54,"h":0.29,"m":0.1,"l":-0.32},
{"x":1.58,"h":0.45,"m":-0.08,"l":-0.25},
{"x":1.62,"h":0.22,"m":0.01,"l":-0.44},
{"x":1.66,"h":0.34,"m":-0.11,"l":-0.3},
{"x":1.7,"h":0.3,"m":0.07,"l":-0.35},
{"x":1.74,"h":0.26,"m":-0.03,"l":-0.4},
{"x":1.78,"h":0.37,"m":0.0,"l":-0.28},
{"x":1.83,"h":0.31,"m":-0.02,"l":-0.33}
]
},
"columns":2,
"bounds":"flush",
"spacing":{"row":58,"column":83},
"concat":[
{
 "width":261,"height":149,
 "title":{"text":"1985-2007"},
 "layer":[
  {"data":{"name":"L"},
   "transform":[{"fold":["hi2","lo2","mid2"],"as":["s","v"]}],
   "mark":{"type":"circle","opacity":1},
   "encoding":{
    "x":{"field":"x","type":"quantitative","scale":{"domain":[-4,2]},"axis":{"values":[-4,-3,-2,-1,0,1,2],"format":"~f","title":"GROₜ₋₁","titleY":25,"titleBaseline":"alphabetic","labelPadding":8,"labelOverlap":false}},
    "y":{"field":"v","type":"quantitative","scale":{"domain":[-1,2]},"axis":{"values":[-1,-0.5,0,0.5,1,1.5,2],"format":"~f","title":"v⁽²⁾(GROₜ₋₁)","titleX":-23,"titleY":74.5,"titleAngle":270,"titleAlign":"center","titleBaseline":"middle","labelPadding":7,"labelOverlap":false}},
    "order":{"field":"s","sort":"ascending"},
    "color":{"condition":{"test":"substring(datum.s,0,1) === 'm'","value":"#000000"},"value":"#959595"},
    "size":{"condition":{"test":"substring(datum.s,0,1) === 'm'","value":5},"value":3.5}
   }},
  {"data":{"values":[{"t":"×10⁻⁴"}]},
   "mark":{"type":"text","align":"left","baseline":"bottom","dx":2,"dy":-0.5,"fontSize":8,"color":"#333333"},
   "encoding":{
    "x":{"datum":-4,"type":"quantitative","axis":{"values":[-4,-3,-2,-1,0,1,2],"format":"~f","title":"GROₜ₋₁","titleY":25,"titleBaseline":"alphabetic","labelPadding":8,"labelOverlap":false}},
    "y":{"datum":2,"type":"quantitative","axis":{"values":[-1,-0.5,0,0.5,1,1.5,2],"format":"~f","title":"v⁽²⁾(GROₜ₋₁)","titleX":-23,"titleY":74.5,"titleAngle":270,"titleAlign":"center","titleBaseline":"middle","labelPadding":7,"labelOverlap":false}},
    "text":{"field":"t"}}}
 ]
},
{
 "width":261,"height":149,
 "title":{"text":"1985-2017"},
 "layer":[
  {"data":{"name":"R2"},
   "transform":[{"fold":["h","l","m"],"as":["s","v"]},{"filter":"isValid(datum.v)"}],
   "mark":{"type":"circle","opacity":1},
   "encoding":{
    "x":{"field":"x","type":"quantitative","scale":{"domain":[-10,2]},"axis":{"values":[-10,-8,-6,-4,-2,0,2],"format":"~f","title":"GROₜ₋₁","titleY":25,"titleBaseline":"alphabetic","labelPadding":8,"labelOverlap":false}},
    "y":{"field":"v","type":"quantitative","scale":{"domain":[-1,1.5]},"axis":{"values":[-1,-0.5,0,0.5,1,1.5],"format":"~f","title":"v⁽²⁾(GROₜ₋₁)","titleX":-23,"titleY":74.5,"titleAngle":270,"titleAlign":"center","titleBaseline":"middle","labelPadding":7,"labelOverlap":false}},
    "order":{"field":"s","sort":"ascending"},
    "color":{"condition":{"test":"substring(datum.s,0,1) === 'm'","value":"#000000"},"value":"#959595"},
    "size":{"condition":{"test":"substring(datum.s,0,1) === 'm'","value":5},"value":3.5}
   }},
  {"data":{"values":[{"t":"×10⁻⁴"}]},
   "mark":{"type":"text","align":"left","baseline":"bottom","dx":2,"dy":-0.5,"fontSize":8,"color":"#333333"},
   "encoding":{
    "x":{"datum":-10,"type":"quantitative","axis":{"values":[-10,-8,-6,-4,-2,0,2],"format":"~f","title":"GROₜ₋₁","titleY":25,"titleBaseline":"alphabetic","labelPadding":8,"labelOverlap":false}},
    "y":{"datum":1.5,"type":"quantitative","axis":{"values":[-1,-0.5,0,0.5,1,1.5],"format":"~f","title":"v⁽²⁾(GROₜ₋₁)","titleX":-23,"titleY":74.5,"titleAngle":270,"titleAlign":"center","titleBaseline":"middle","labelPadding":7,"labelOverlap":false}},
    "text":{"field":"t"}}}
 ]
},
{
 "width":261,"height":149,
 "layer":[
  {"data":{"name":"L"},
   "transform":[{"fold":["hi3","lo3","mid3"],"as":["s","v"]}],
   "mark":{"type":"circle","opacity":1},
   "encoding":{
    "x":{"field":"x","type":"quantitative","scale":{"domain":[-4,2]},"axis":{"values":[-4,-3,-2,-1,0,1,2],"format":"~f","title":"GROₜ₋₁","titleY":25,"titleBaseline":"alphabetic","labelPadding":8,"labelOverlap":false}},
    "y":{"field":"v","type":"quantitative","scale":{"domain":[-4,2]},"axis":{"values":[-4,-3,-2,-1,0,1,2],"format":"~f","title":"v⁽³⁾(GROₜ₋₁)","titleX":-23,"titleY":74.5,"titleAngle":270,"titleAlign":"center","titleBaseline":"middle","labelPadding":7,"labelOverlap":false}},
    "order":{"field":"s","sort":"ascending"},
    "color":{"condition":{"test":"substring(datum.s,0,1) === 'm'","value":"#000000"},"value":"#959595"},
    "size":{"condition":{"test":"substring(datum.s,0,1) === 'm'","value":5},"value":3.5}
   }},
  {"data":{"values":[{"t":"×10⁻⁵"}]},
   "mark":{"type":"text","align":"left","baseline":"bottom","dx":2,"dy":-0.5,"fontSize":8,"color":"#333333"},
   "encoding":{
    "x":{"datum":-4,"type":"quantitative","axis":{"values":[-4,-3,-2,-1,0,1,2],"format":"~f","title":"GROₜ₋₁","titleY":25,"titleBaseline":"alphabetic","labelPadding":8,"labelOverlap":false}},
    "y":{"datum":2,"type":"quantitative","axis":{"values":[-4,-3,-2,-1,0,1,2],"format":"~f","title":"v⁽³⁾(GROₜ₋₁)","titleX":-23,"titleY":74.5,"titleAngle":270,"titleAlign":"center","titleBaseline":"middle","labelPadding":7,"labelOverlap":false}},
    "text":{"field":"t"}}}
 ]
},
{
 "width":261,"height":149,
 "layer":[
  {"data":{"name":"R3"},
   "transform":[{"fold":["h","l","m"],"as":["s","v"]}],
   "mark":{"type":"circle","opacity":1},
   "encoding":{
    "x":{"field":"x","type":"quantitative","scale":{"domain":[-10,2]},"axis":{"values":[-10,-8,-6,-4,-2,0,2],"format":"~f","title":"GROₜ₋₁","titleY":25,"titleBaseline":"alphabetic","labelPadding":8,"labelOverlap":false}},
    "y":{"field":"v","type":"quantitative","scale":{"domain":[-1,1]},"axis":{"values":[-1,-0.5,0,0.5,1],"format":"~f","title":"v⁽³⁾(GROₜ₋₁)","titleX":-23,"titleY":74.5,"titleAngle":270,"titleAlign":"center","titleBaseline":"middle","labelPadding":7,"labelOverlap":false}},
    "order":{"field":"s","sort":"ascending"},
    "color":{"condition":{"test":"substring(datum.s,0,1) === 'm'","value":"#000000"},"value":"#959595"},
    "size":{"condition":{"test":"substring(datum.s,0,1) === 'm'","value":5},"value":3.5}
   }},
  {"data":{"values":[{"t":"×10⁻⁴"}]},
   "mark":{"type":"text","align":"left","baseline":"bottom","dx":2,"dy":-0.5,"fontSize":8,"color":"#333333"},
   "encoding":{
    "x":{"datum":-10,"type":"quantitative","axis":{"values":[-10,-8,-6,-4,-2,0,2],"format":"~f","title":"GROₜ₋₁","titleY":25,"titleBaseline":"alphabetic","labelPadding":8,"labelOverlap":false}},
    "y":{"datum":1,"type":"quantitative","axis":{"values":[-1,-0.5,0,0.5,1],"format":"~f","title":"v⁽³⁾(GROₜ₋₁)","titleX":-23,"titleY":74.5,"titleAngle":270,"titleAlign":"center","titleBaseline":"middle","labelPadding":7,"labelOverlap":false}},
    "text":{"field":"t"}}}
 ]
}
]
}
